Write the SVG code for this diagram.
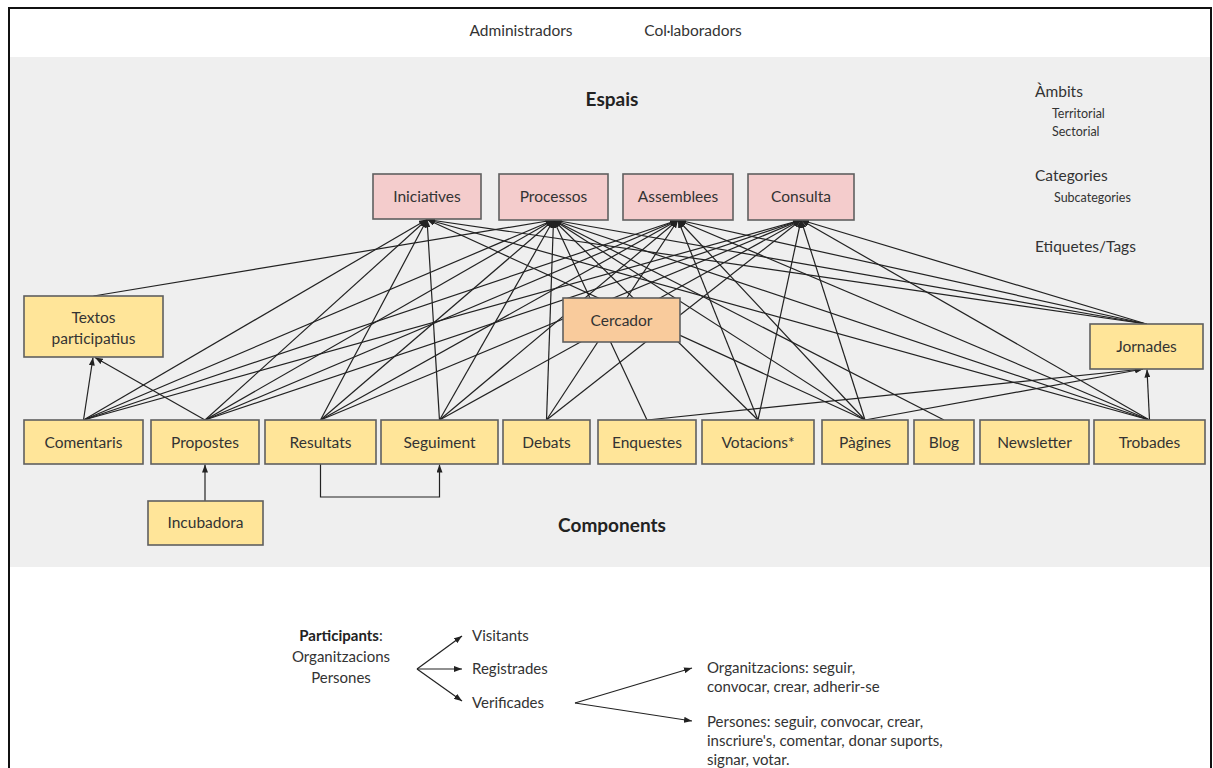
<svg xmlns="http://www.w3.org/2000/svg" width="1213" height="768" viewBox="0 0 1213 768">
<defs>
<marker id="ah" viewBox="0 0 8 6" refX="8" refY="3" markerWidth="8" markerHeight="6" markerUnits="userSpaceOnUse" orient="auto"><path d="M0,0 L8,3 L0,6 z" fill="#222"/></marker>
<style>
.bg{fill:#ffffff}
.band{fill:#efefef}
.frame{fill:none;stroke:#111;stroke-width:2}
.sp{fill:#f4cccc;stroke:#5f5f5f;stroke-width:1.6}
.cp{fill:#ffe599;stroke:#5f5f5f;stroke-width:1.6}
.cs{fill:#f9cb9c;stroke:#5f5f5f;stroke-width:1.6}
text{font-family:Lato,"Open Sans","Liberation Sans",sans-serif;fill:#333}
.lb{font-size:15.5px;text-anchor:middle}
.hd{font-size:19px;font-weight:bold;text-anchor:middle;fill:#222}
.tx{font-size:15px}
.tt{font-size:15.5px}
.sm{font-size:12.5px}
.ln{stroke:#222;stroke-width:1.2;fill:none}
.ln2{stroke:#222;stroke-width:1.2;fill:none;marker-end:url(#ah)}
</style>
</defs>
<rect class="bg" x="0" y="0" width="1213" height="768"/>
<rect class="band" x="9" y="57" width="1202" height="510"/>
<path class="frame" d="M9,800 V8 H1211 V800"/>

<g id="top-labels">
<text class="tt" x="521" y="36" text-anchor="middle">Administradors</text>
<text class="tt" x="693" y="36" text-anchor="middle">Col·laboradors</text>
<text class="hd" x="612" y="106">Espais</text>
<text class="hd" x="612" y="532">Components</text>
<text class="tt" x="1035" y="97">Àmbits</text>
<text class="sm" x="1052" y="118">Territorial</text>
<text class="sm" x="1052" y="136">Sectorial</text>
<text class="tt" x="1035" y="181">Categories</text>
<text class="sm" x="1054" y="202">Subcategories</text>
<text class="tt" x="1035" y="252">Etiquetes/Tags</text>
</g>

<g id="connectors">
<!-- Comentaris -->
<line class="ln2" x1="83.5" y1="420" x2="427" y2="219.5"/>
<line class="ln2" x1="83.5" y1="420" x2="553.5" y2="220"/>
<line class="ln2" x1="83.5" y1="420" x2="678" y2="220"/>
<line class="ln2" x1="83.5" y1="420" x2="801" y2="220"/>
<line class="ln2" x1="83.5" y1="420" x2="93" y2="357.5"/>
<!-- Propostes -->
<line class="ln2" x1="205" y1="420" x2="427" y2="219.5"/>
<line class="ln2" x1="205" y1="420" x2="553.5" y2="220"/>
<line class="ln2" x1="205" y1="420" x2="678" y2="220"/>
<line class="ln2" x1="205" y1="420" x2="801" y2="220"/>
<line class="ln2" x1="205" y1="420" x2="95" y2="357.5"/>
<!-- Resultats -->
<line class="ln2" x1="320.5" y1="420" x2="427" y2="219.5"/>
<line class="ln2" x1="320.5" y1="420" x2="553.5" y2="220"/>
<line class="ln2" x1="320.5" y1="420" x2="678" y2="220"/>
<line class="ln2" x1="320.5" y1="420" x2="801" y2="220"/>
<!-- Seguiment -->
<line class="ln2" x1="439.5" y1="420" x2="427" y2="219.5"/>
<line class="ln2" x1="439.5" y1="420" x2="553.5" y2="220"/>
<line class="ln2" x1="439.5" y1="420" x2="678" y2="220"/>
<line class="ln2" x1="439.5" y1="420" x2="801" y2="220"/>
<!-- Debats -->
<line class="ln2" x1="546.5" y1="420" x2="553.5" y2="220"/>
<line class="ln2" x1="546.5" y1="420" x2="678" y2="220"/>
<line class="ln2" x1="546.5" y1="420" x2="801" y2="220"/>
<!-- Enquestes -->
<line class="ln2" x1="647" y1="420" x2="553.5" y2="220"/>
<line class="ln2" x1="647" y1="420" x2="1143" y2="369"/>
<!-- Votacions -->
<line class="ln2" x1="758" y1="420" x2="553.5" y2="220"/>
<line class="ln2" x1="758" y1="420" x2="678" y2="220"/>
<line class="ln2" x1="758" y1="420" x2="801" y2="220"/>
<!-- Pagines -->
<line class="ln2" x1="865" y1="420" x2="427" y2="219.5"/>
<line class="ln2" x1="865" y1="420" x2="553.5" y2="220"/>
<line class="ln2" x1="865" y1="420" x2="678" y2="220"/>
<line class="ln2" x1="865" y1="420" x2="801" y2="220"/>
<line class="ln2" x1="865" y1="420" x2="1143" y2="369"/>
<!-- Blog -->
<line class="ln2" x1="944" y1="420" x2="553.5" y2="220"/>
<!-- Trobades -->
<line class="ln2" x1="1149.5" y1="420" x2="427" y2="219.5"/>
<line class="ln2" x1="1149.5" y1="420" x2="553.5" y2="220"/>
<line class="ln2" x1="1149.5" y1="420" x2="678" y2="220"/>
<line class="ln2" x1="1149.5" y1="420" x2="801" y2="220"/>
<line class="ln2" x1="1149.5" y1="420" x2="1147" y2="369.5"/>
<!-- Textos -->
<line class="ln2" x1="93.5" y1="296" x2="553.5" y2="220"/>
<!-- Jornades -->
<line class="ln2" x1="1146.5" y1="324" x2="427" y2="219.5"/>
<line class="ln2" x1="1146.5" y1="324" x2="553.5" y2="220"/>
<line class="ln2" x1="1146.5" y1="324" x2="678" y2="220"/>
<line class="ln2" x1="1146.5" y1="324" x2="801" y2="220"/>
<!-- Incubadora / Resultats -->
<line class="ln2" x1="205" y1="501" x2="205" y2="464.5"/>
<path class="ln2" d="M320.5,464 V497 H439.5 V464.5"/>
</g>

<g id="n-iniciatives"><rect class="sp" x="373" y="174" width="108" height="45"/><text class="lb" x="427" y="201.5">Iniciatives</text></g>
<g id="n-processos"><rect class="sp" x="499" y="174" width="109" height="46"/><text class="lb" x="553.5" y="202">Processos</text></g>
<g id="n-assemblees"><rect class="sp" x="623" y="174" width="110" height="46"/><text class="lb" x="678" y="202">Assemblees</text></g>
<g id="n-consulta"><rect class="sp" x="748" y="174" width="106" height="46"/><text class="lb" x="801" y="202">Consulta</text></g>

<g id="n-textos"><rect class="cp" x="24" y="296" width="139" height="61"/><text class="lb" x="93.5" y="323">Textos</text><text class="lb" x="93.5" y="344">participatius</text></g>
<g id="n-cercador"><rect class="cs" x="563" y="298" width="117" height="44"/><text class="lb" x="621.5" y="325.5">Cercador</text></g>
<g id="n-jornades"><rect class="cp" x="1090" y="324" width="113" height="45"/><text class="lb" x="1146.5" y="352">Jornades</text></g>

<g id="n-comentaris"><rect class="cp" x="24" y="420" width="119" height="44"/><text class="lb" x="83.5" y="447.5">Comentaris</text></g>
<g id="n-propostes"><rect class="cp" x="151" y="420" width="108" height="44"/><text class="lb" x="205" y="447.5">Propostes</text></g>
<g id="n-resultats"><rect class="cp" x="265" y="420" width="111" height="44"/><text class="lb" x="320.5" y="447.5">Resultats</text></g>
<g id="n-seguiment"><rect class="cp" x="381" y="420" width="117" height="44"/><text class="lb" x="439.5" y="447.5">Seguiment</text></g>
<g id="n-debats"><rect class="cp" x="503" y="420" width="87" height="44"/><text class="lb" x="546.5" y="447.5">Debats</text></g>
<g id="n-enquestes"><rect class="cp" x="598" y="420" width="98" height="44"/><text class="lb" x="647" y="447.5">Enquestes</text></g>
<g id="n-votacions"><rect class="cp" x="702" y="420" width="112" height="44"/><text class="lb" x="758" y="447.5">Votacions*</text></g>
<g id="n-pagines"><rect class="cp" x="822" y="420" width="86" height="44"/><text class="lb" x="865" y="447.5">Pàgines</text></g>
<g id="n-blog"><rect class="cp" x="914" y="420" width="60" height="44"/><text class="lb" x="944" y="447.5">Blog</text></g>
<g id="n-newsletter"><rect class="cp" x="980" y="420" width="109" height="44"/><text class="lb" x="1034.5" y="447.5">Newsletter</text></g>
<g id="n-trobades"><rect class="cp" x="1094" y="420" width="111" height="44"/><text class="lb" x="1149.5" y="447.5">Trobades</text></g>
<g id="n-incubadora"><rect class="cp" x="148" y="501" width="115" height="44"/><text class="lb" x="205.5" y="528">Incubadora</text></g>

<g id="participants">
<text class="tx" x="341" y="641" text-anchor="middle"><tspan font-weight="bold" fill="#222">Participants</tspan>:</text>
<text class="tx" x="341" y="662" text-anchor="middle">Organitzacions</text>
<text class="tx" x="341" y="683" text-anchor="middle">Persones</text>
<line class="ln2" x1="417" y1="669" x2="462" y2="636"/>
<line class="ln2" x1="417" y1="669" x2="462" y2="669"/>
<line class="ln2" x1="417" y1="669" x2="462" y2="701"/>
<text class="tx" x="472" y="641">Visitants</text>
<text class="tx" x="472" y="674">Registrades</text>
<text class="tx" x="472" y="708">Verificades</text>
<line class="ln2" x1="575" y1="703" x2="692" y2="668"/>
<line class="ln2" x1="575" y1="703" x2="692" y2="721"/>
<text class="tx" x="707" y="673">Organitzacions: seguir,</text>
<text class="tx" x="707" y="692">convocar, crear, adherir-se</text>
<text class="tx" x="707" y="727">Persones: seguir, convocar, crear,</text>
<text class="tx" x="707" y="746">inscriure's, comentar, donar suports,</text>
<text class="tx" x="707" y="765">signar, votar.</text>
</g>
</svg>
